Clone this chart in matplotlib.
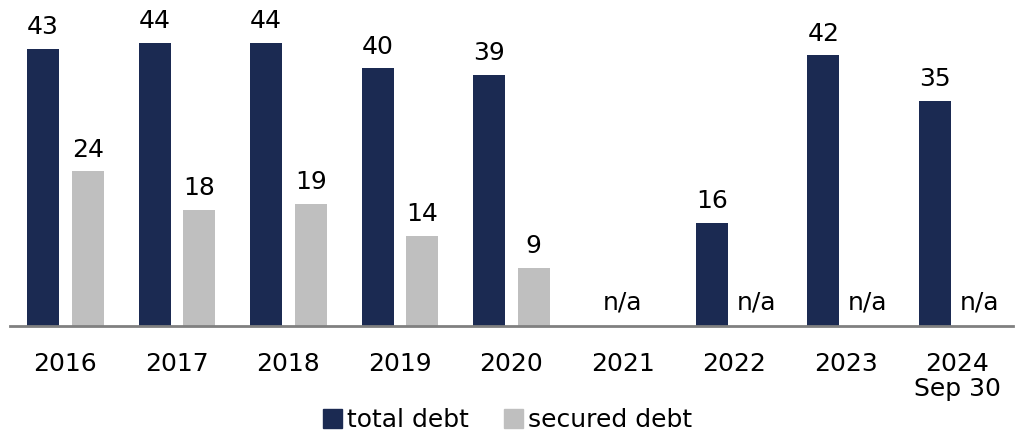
import numpy as np
import matplotlib.pyplot as plt
from matplotlib.patches import Patch

categories = ['2016', '2017', '2018', '2019', '2020', '2021', '2022', '2023', '2024\nSep 30']
total_debt = [43, 44, 44, 40, 39, None, 16, 42, 35]
secured_debt = [24, 18, 19, 14, 9, None, None, None, None]

plt.rcParams['font.family'] = ['DejaVu Sans']
navy = '#1B2A52'
grey = '#BFBFBF'
fs = 18

fig = plt.figure(figsize=(10.15, 4.33), dpi=100)
ax = fig.add_axes([9.75 / 1015, 107 / 433, 1003 / 1015, 326 / 433])

x = np.arange(len(categories))
w = 0.287
off = 0.2


def draw(vals, pos, color):
    for xi, v in zip(pos, vals):
        if v is None:
            ax.annotate('n/a', (xi, 0), xytext=(0, 8), textcoords='offset points',
                        ha='center', va='bottom', fontsize=fs)
            continue
        ax.bar(xi, v, w, color=color)
        ax.annotate(str(v), (xi, v), xytext=(0, 7), textcoords='offset points',
                    ha='center', va='bottom', fontsize=fs)


# 2021 has n/a shown only once, at the group center
for i, (t, s) in enumerate(zip(total_debt, secured_debt)):
    if t is None and s is None:
        ax.annotate('n/a', (x[i], 0), xytext=(0, 8), textcoords='offset points',
                    ha='center', va='bottom', fontsize=fs)
        continue
    draw([t], [x[i] - off], navy)
    draw([s], [x[i] + off], grey)

ax.set_xlim(-0.5, len(categories) - 0.5)
ax.set_ylim(0, 50.6)
ax.set_xticks(x)
ax.set_xticklabels(categories, fontsize=fs, linespacing=1.05)
ax.tick_params(axis='x', length=0, pad=19)
ax.set_yticks([])
for s in ['top', 'right', 'left']:
    ax.spines[s].set_visible(False)
ax.spines['bottom'].set_color('#808080')
ax.spines['bottom'].set_linewidth(2)

handles = [Patch(color=navy, label='total debt'), Patch(color=grey, label='secured debt')]
fig.legend(handles=handles, loc='lower center', bbox_to_anchor=(0.5, -0.05), ncol=2,
           frameon=False, fontsize=fs, handlelength=0.75, handleheight=0.75,
           handletextpad=0.2, columnspacing=1.4)

fig.savefig('out.png', dpi=100)
